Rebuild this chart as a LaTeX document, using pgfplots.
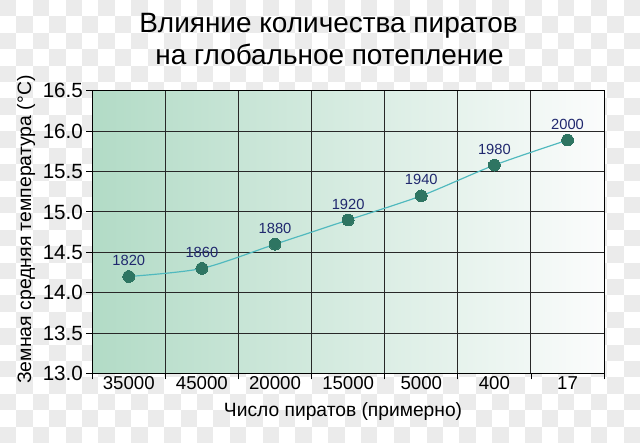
\documentclass[border=0pt]{standalone}
\usepackage{fontspec}
\setmainfont{Liberation Sans}
\usepackage{pgfplots}
\pgfplotsset{compat=1.18}
\usepackage{pgfplotstable}
\definecolor{checkgray}{RGB}{235,235,235}
\definecolor{plotleft}{RGB}{178,219,198}
\definecolor{plotright}{RGB}{251,252,252}
\definecolor{linecol}{RGB}{80,185,190}
\definecolor{markcol}{RGB}{46,117,98}
\definecolor{labcol}{RGB}{32,40,110}
\definecolor{gridcol}{RGB}{40,40,40}

\pgfplotstableread{
x y lab
0 14.20 1820
1 14.30 1860
2 14.60 1880
3 14.90 1920
4 15.20 1940
5 15.58 1980
6 15.89 2000
}\piratedata

\begin{document}
\begin{tikzpicture}[x=1bp,y=1bp]
\fill[white] (0,0) rectangle (640,436);
\foreach \i in {0,...,38}{
  \foreach \j in {0,...,26}{
    \pgfmathtruncatemacro\p{mod(\i+\j,2)}
    \ifnum\p=0
      \fill[checkgray] ({\i*16.67-1.67},{436-(\j*16.67-3.3)}) rectangle ++(16.67,-16.67);
    \fi
  }
}
\path[use as bounding box] (0,0) rectangle (640,436);

\node[anchor=base, font=\fontsize{28.5}{32}\selectfont] at (332,406) {Влияние количества пиратов};
\node[anchor=base, font=\fontsize{28.5}{32}\selectfont] at (333,374) {на глобальное потепление};

\begin{axis}[
  at={(92bp,60bp)}, anchor=south west,
  scale only axis, width=520bp, height=287bp,
  xmin=-0.5, xmax=6.5, ymin=13, ymax=16.5,
  axis background/.style={left color=plotleft, right color=plotright},
  axis line style={black, line width=1.1bp},
  xtick={-0.5,0.5,1.5,2.5,3.5,4.5,5.5,6.5},
  xticklabels={},
  extra x ticks={0,1,2,3,4,5,6},
  extra x tick labels={35000,45000,20000,15000,5000,400,17},
  extra x tick style={major tick length=0pt, grid=none,
     tick label style={font=\fontsize{19}{20}\selectfont}},
  ytick={13,13.5,14,14.5,15,15.5,16,16.5},
  yticklabel style={font=\fontsize{21}{22}\selectfont,
     /pgf/number format/fixed, /pgf/number format/fixed zerofill,
     /pgf/number format/precision=1},
  /pgf/number format/assume math mode=true,
  xtick pos=bottom, ytick pos=left,
  tick align=outside,
  major tick length=6bp,
  tick style={black, line width=0.9bp},
  xmajorgrids, ymajorgrids,
  major grid style={gridcol, line width=1bp},
  xlabel={Число пиратов (примерно)},
  ylabel={Земная средняя температура (°C)},
  every axis x label/.style={at={(axis description cs:0.49,0)}, anchor=base, yshift=-44bp, font=\fontsize{19.6}{20}\selectfont},
  every axis y label/.style={at={(axis description cs:-0.129,0.509)}, rotate=90, anchor=center, font=\fontsize{19.8}{20}\selectfont},
]
\addplot[linecol, line width=1.2bp, smooth, tension=0.45,
  mark=*, mark size=6bp, mark options={fill=markcol, draw=markcol, line width=0pt},
  nodes near coords, point meta=explicit symbolic,
  every node near coord/.append style={font=\fontsize{15}{15}\selectfont, text=labcol, inner sep=0pt, yshift=11bp}]
  table[x=x, y=y, meta=lab] {\piratedata};
\end{axis}
\end{tikzpicture}
\end{document}
